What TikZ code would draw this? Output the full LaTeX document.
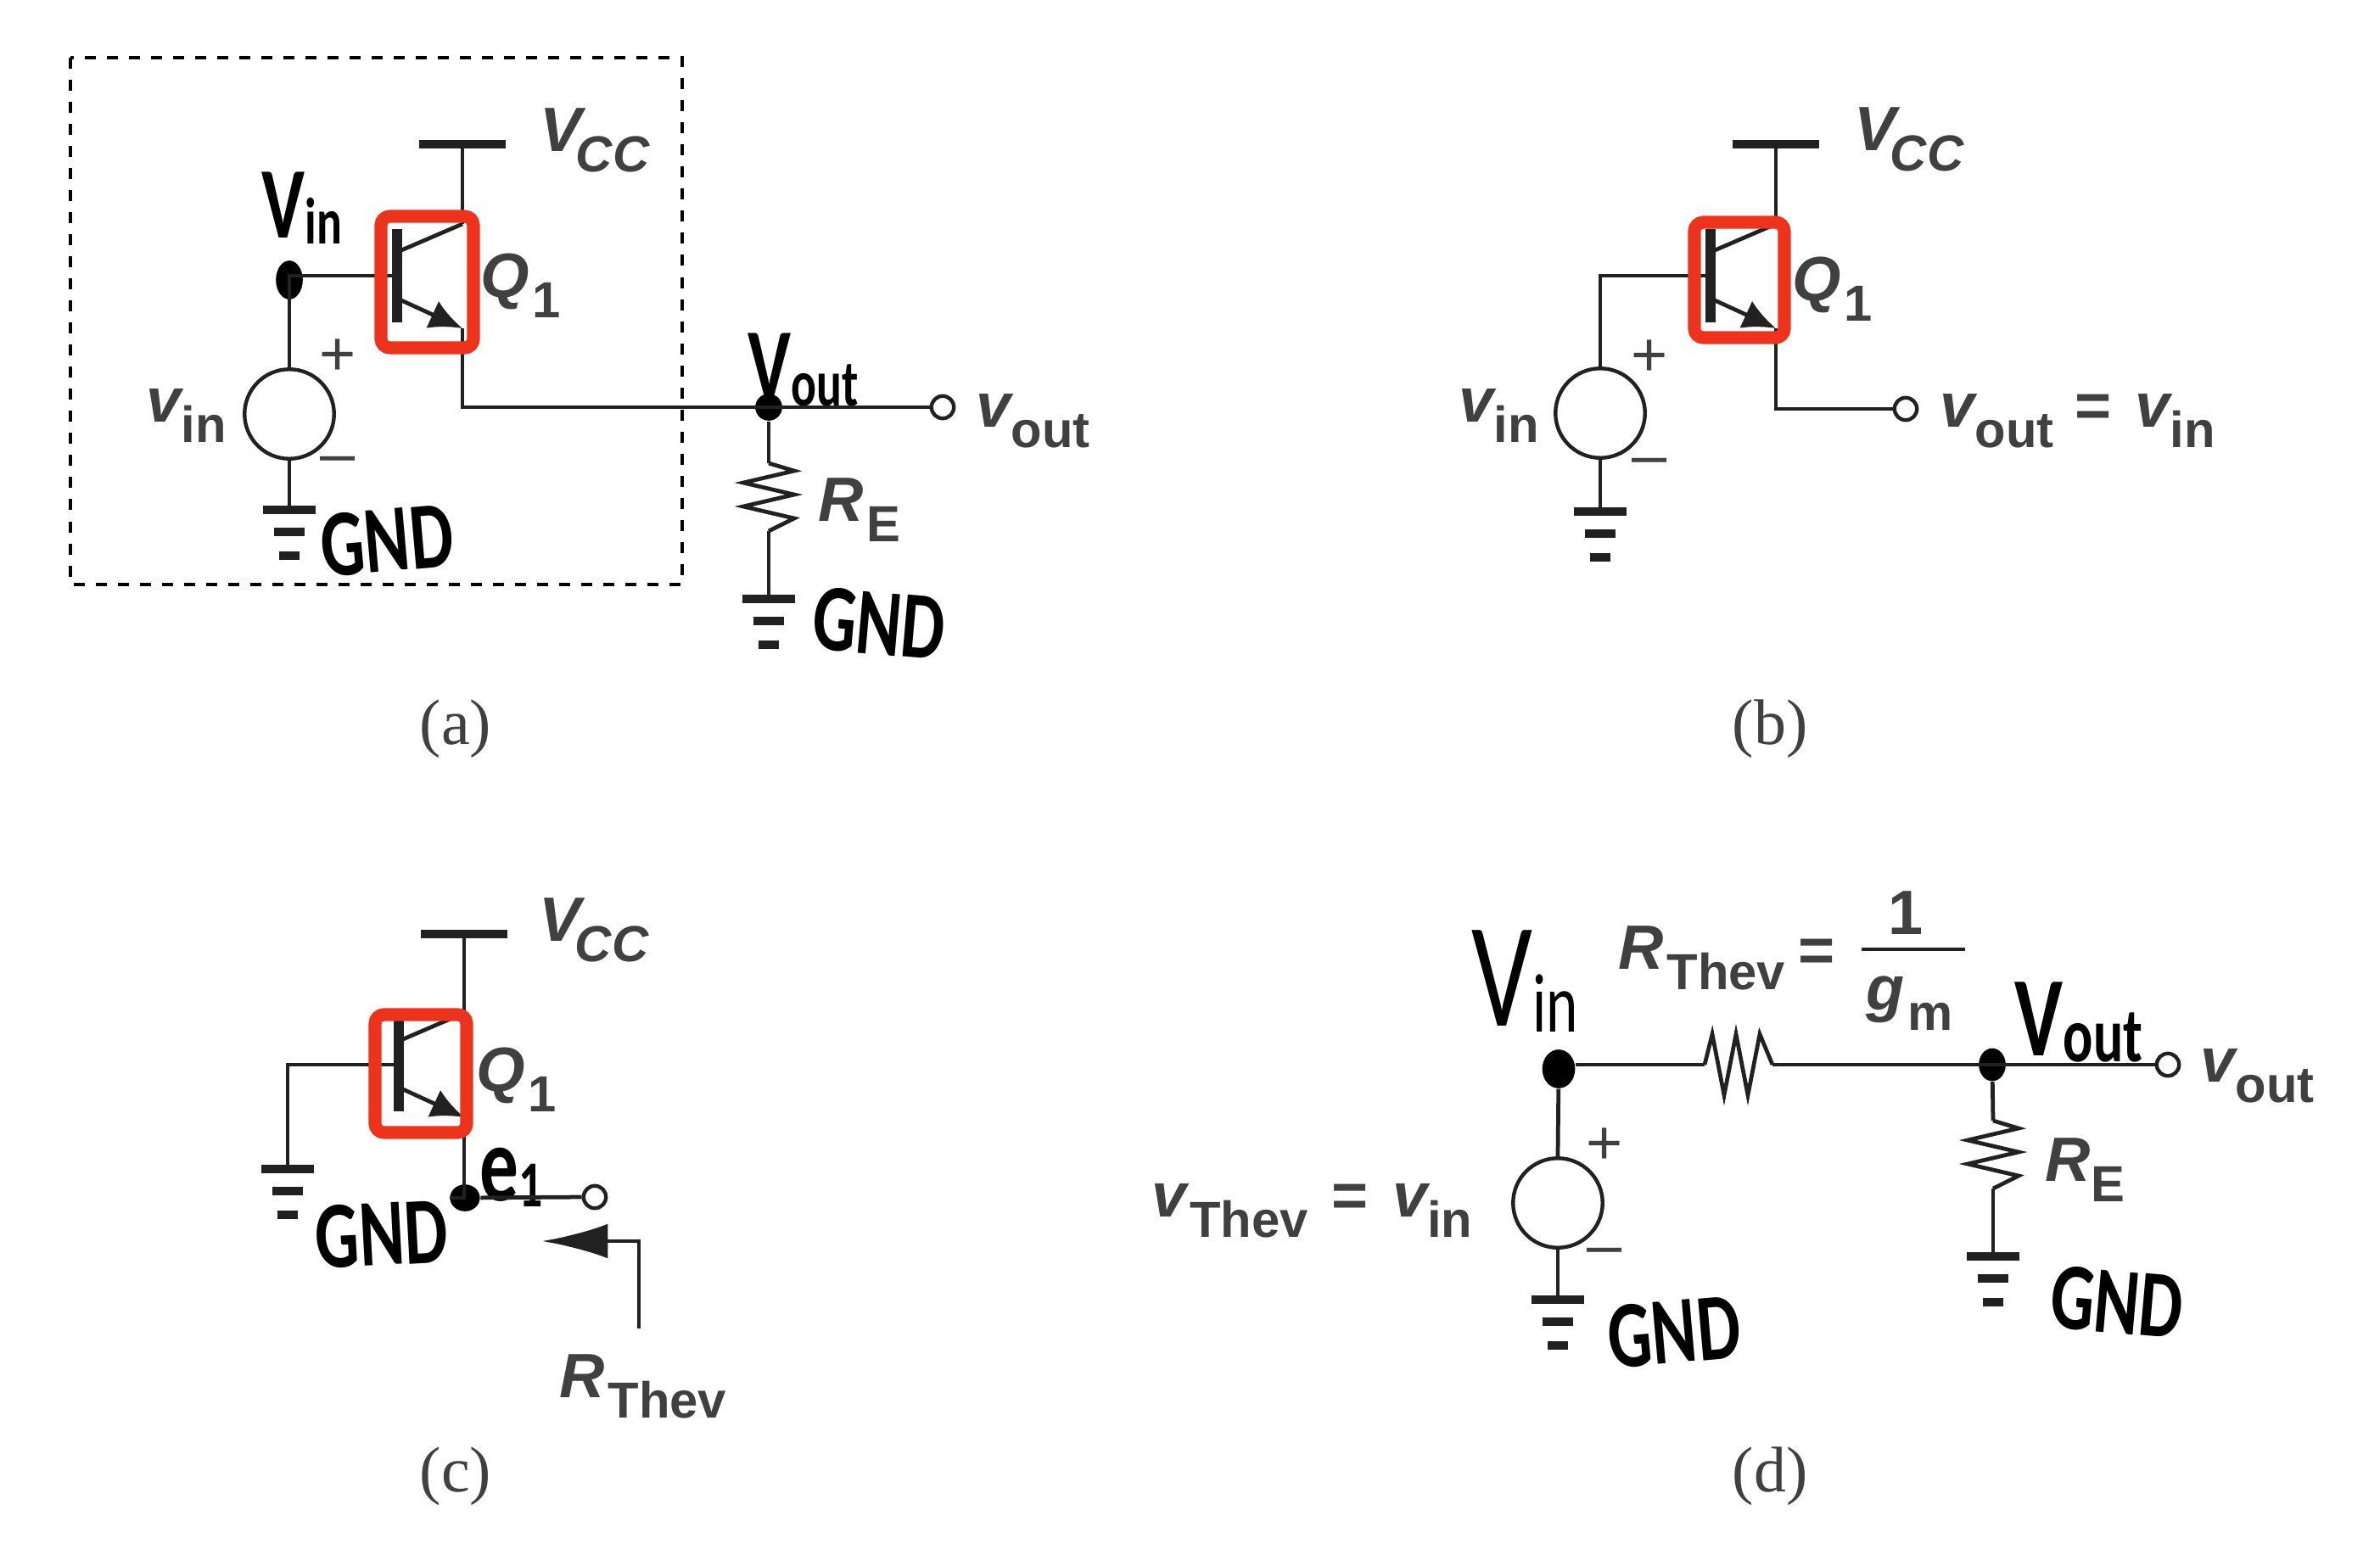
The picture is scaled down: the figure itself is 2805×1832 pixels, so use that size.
\documentclass[tikz,border=0pt]{standalone}
\usepackage{fontspec}
\setmainfont{Liberation Sans}
\newfontfamily\capfont{Liberation Serif}
\newfontfamily\handfont[FakeStretch=0.72]{Carlito}
\usepackage{xcolor}
\definecolor{wirecol}{rgb}{0.13,0.13,0.13}
\definecolor{labcol}{rgb}{0.25,0.25,0.25}
\definecolor{boxred}{rgb}{0.93,0.2,0.11}
\usetikzlibrary{arrows.meta,shapes.geometric}
\newcommand{\lsub}[2][1pt]{\hspace{#1}\raisebox{-7pt}{\fontsize{17}{20}\selectfont\upshape #2}}
\newcommand{\hsub}[2][22]{\raisebox{-2pt}{\fontsize{#1}{#1}\selectfont #2}}
\tikzset{
  wire/.style={draw=wirecol, line width=1.35pt},
  lab/.style={font=\bfseries\fontsize{21}{25}\selectfont\itshape, text=labcol, inner sep=0, anchor=base west},
  sign/.style={font=\fontsize{21}{25}\selectfont, text=labcol, inner sep=0},
  capt/.style={font=\capfont\fontsize{21.6}{26}\selectfont, text=labcol, inner sep=0},
  hand/.style={font=\handfont\bfseries\fontsize{32}{36}\selectfont, text=black, inner sep=0},
  handbig/.style={font=\handfont\fontsize{#1}{#1}\selectfont, text=black, inner sep=0},
  source/.style={circle, draw=wirecol, line width=1.25pt, fill=white, minimum size=30pt, inner sep=0},
  term/.style={circle, draw=wirecol, line width=1.25pt, fill=white, minimum size=7.5pt, inner sep=0},
  blob/.style={ellipse, fill=black, inner sep=0, minimum width=#1},
  redbox/.style={draw=boxred, line width=4.3pt, rounded corners=3pt},
  rail/.pic={
    \draw[wirecol, line width=2.8pt] (-51,0) -- (51,0);
    \coordinate (-m) at (0,0);
  },
  gnd/.pic={
    \draw[wirecol, line width=2.8pt] (-31,0) -- (31,0);
    \draw[wirecol, line width=2.8pt] (-18,26) -- (18,26);
    \draw[wirecol, line width=2.8pt] (-12,54) -- (12,54);
    \coordinate (-t) at (0,0);
  },
  bjt/.pic={
    \draw[wirecol, line width=3.4pt] (0,-55) -- (0,55);
    \draw[wirecol, line width=1.35pt] (5,-30) -- (77,-61);
    \draw[wirecol, line width=1.35pt, -{Latex[length=11pt,width=10pt]}] (5,29) -- (77,62);
    \coordinate (-b) at (0,0);
    \coordinate (-c) at (77,-61);
    \coordinate (-e) at (77,62);
  },
  resist/.pic={
    \draw[wirecol, line width=1.35pt] (0,0) -- (30,9) -- (-30,23) -- (30,37) -- (-30,51) -- (30,65) -- (0,80);
    \coordinate (-t) at (0,0);
    \coordinate (-d) at (0,80);
  },
}
\begin{document}
\begin{tikzpicture}[x=0.01cm,y=-0.01cm]
  \useasboundingbox (0,0) rectangle (2805,1832);

  \draw[black, line width=1.4pt, dash pattern=on 3.7pt off 3.7pt] (83,68) rectangle (804,689);

  \pic (vcca) at (545,170) {rail};
  \pic (qa) at (468,325) {bjt};
  \pic (gnda) at (341,601) {gnd};
  \pic (gndb) at (906,706) {gnd};
  \pic (rea) at (906,546) {resist};
  \node[source] (srca) at (341,488) {};
  \node[term] (outa) at (1111,480) {};
  \node[blob=9pt, minimum height=13pt] (dotia) at (341,330) {};
  \node[blob=9pt, minimum height=9pt] (dotoa) at (906,480) {};
  \node[lab] (vcctxa) at (636,178) {V\lsub[-2pt]{\itshape CC}};
  \node[lab] (qtxa) at (566,350) {Q\lsub[1pt]{1}};
  \node[lab] (vitxa) at (172,497) {v\lsub[0pt]{in}};
  \node[lab] (votxa) at (1150,503) {v\lsub[0pt]{out}};
  \node[lab] (retxa) at (964,614) {R\lsub[1pt]{E}};
  \node[sign] (plusa) at (398,421) {+};
  \node[sign] (mina) at (398,549) {–};
  \node[hand, font=\handfont\bfseries\fontsize{34}{36}\selectfont] (hvia) at (356,245) {V\hsub{in}};
  \node[hand, font=\handfont\bfseries\fontsize{34}{36}\selectfont] (hvoa) at (947,436) {V\hsub{out}};
  \node[hand, rotate=5] (hga) at (456,637) {GND};
  \node[hand, rotate=-5] (hgb) at (1036,735) {GND};
  \node[capt] (capa) at (537,859) {(a)};

  \begin{scope}[every path/.style=wire]
    \path (vcca-m) -- (qa-c);
    \path (qa-b) -| (srca.north);
    \path (srca.south) -- (gnda-t);
    \path (qa-e) |- (outa.west);
    \path (dotoa) -- (rea-t);
    \path (rea-d) -- (gndb-t);
  \end{scope}
  \draw[redbox] (449,255) rectangle (558,410);

  \pic (vccb) at (2093,170) {rail};
  \pic (qb) at (2016,325) {bjt};
  \pic (gndc) at (1886,603) {gnd};
  \node[source] (srcb) at (1886,487) {};
  \node[term] (outb) at (2246,482) {};
  \node[lab] (vcctxb) at (2185,177) {V\lsub[-2pt]{\itshape CC}};
  \node[lab] (qtxb) at (2112,354) {Q\lsub[1pt]{1}};
  \node[lab] (vitxb) at (1719,497) {v\lsub[0pt]{in}};
  \node[lab] (votxb) at (2286,503) {v\lsub[0pt]{out}\hspace{7pt}{\upshape =}\hspace{8pt}v\lsub[0pt]{in}};
  \node[sign] (plusb) at (1944,422) {+};
  \node[sign] (minb) at (1944,551) {–};
  \node[capt] (capb) at (2086,859) {(b)};

  \begin{scope}[every path/.style=wire]
    \path (vccb-m) -- (qb-c);
    \path (qb-b) -| (srcb.north);
    \path (srcb.south) -- (gndc-t);
    \path (qb-e) |- (outb.west);
  \end{scope}
  \draw[redbox] (1997,262) rectangle (2103,398);

  \pic (vccc) at (547,1101) {rail};
  \pic (qc) at (470,1255) {bjt};
  \pic (gndd) at (339,1378) {gnd};
  \node[term] (outc) at (701,1411) {};
  \node[blob=10pt, minimum height=9pt] (dotc) at (548,1412) {};
  \coordinate (arrs) at (753,1566);
  \coordinate (arrb) at (753,1463);
  \coordinate (arrt) at (639,1463);
  \node[lab] (vcctxc) at (635,1109) {V\lsub[-2pt]{\itshape CC}};
  \node[lab] (qtxc) at (561,1286) {Q\lsub[1pt]{1}};
  \node[lab] (rttxc) at (659,1647) {R\lsub[1pt]{Thev}};
  \node[hand, font=\handfont\bfseries\fontsize{36}{38}\selectfont] (hec) at (603,1388) {e\hsub{1}};
  \node[hand, rotate=3] (hgc) at (450,1455) {GND};
  \node[capt] (capc) at (537,1740) {(c)};

  \begin{scope}[every path/.style=wire]
    \path (vccc-m) -- (qc-c);
    \path (qc-b) -| (gndd-t);
    \path (qc-e) |- (dotc);
    \path (dotc) -- (outc.west);
    \path[-{Latex[length=22pt,width=11.6pt]}] (arrs) -- (arrb) -- (arrt);
  \end{scope}
  \draw[redbox] (442,1196) rectangle (550,1335);

  \pic (gnde) at (1836,1532) {gnd};
  \pic (gndf) at (2349,1481) {gnd};
  \pic[rotate=90, xscale=1.2] (rtd) at (2009,1255) {resist};
  \pic (red) at (2349,1321) {resist};
  \node[source] (srcd) at (1836,1418) {};
  \node[term] (outd) at (2555,1255) {};
  \node[blob=11pt, minimum height=13pt] (dotid) at (1837,1260) {};
  \node[blob=9pt, minimum height=11pt] (dotod) at (2348,1255) {};
  \coordinate (fracl) at (2194,1119);
  \coordinate (fracr) at (2316,1119);
  \node[lab] (rttxd) at (1907,1142) {R\lsub[1pt]{Thev}};
  \node[sign, font=\bfseries\fontsize{21}{25}\selectfont] (eqd) at (2141,1126) {=};
  \node[sign, anchor=base, font=\bfseries\fontsize{21}{25}\selectfont] (oned) at (2246,1101) {1};
  \node[lab] (gmtxd) at (2199,1190) {g\lsub[1pt]{m}};
  \node[lab] (votxd) at (2593,1275) {v\lsub[0pt]{out}};
  \node[lab] (retxd) at (2410,1392) {R\lsub[0pt]{E}};
  \node[lab] (vttxd) at (1357,1434) {v\lsub[1pt]{Thev}\hspace{8pt}{\upshape =}\hspace{8pt}v\lsub[0pt]{in}};
  \node[sign] (plusd) at (1891,1351) {+};
  \node[sign] (mind) at (1891,1482) {–};
  \node[handbig=50] (hvid) at (1797,1157) {V\hsub[28]{in}};
  \node[hand, font=\handfont\bfseries\fontsize{38}{40}\selectfont] (hvod) at (2450,1205) {V\hsub[26]{out}};
  \node[hand, rotate=5] (hgd) at (1973,1570) {GND};
  \node[hand, rotate=-5] (hge) at (2495,1535) {GND};
  \node[capt] (capd) at (2086,1740) {(d)};

  \begin{scope}[every path/.style=wire]
    \path (dotid) -- (srcd.north);
    \path (srcd.south) -- (gnde-t);
    \path (dotid.east |- outd.west) -- (rtd-t);
    \path (rtd-d) -- (outd.west);
    \path (dotod) -- (red-t);
    \path (red-d) -- (gndf-t);
    \path (fracl) -- (fracr);
  \end{scope}
\end{tikzpicture}
\end{document}
